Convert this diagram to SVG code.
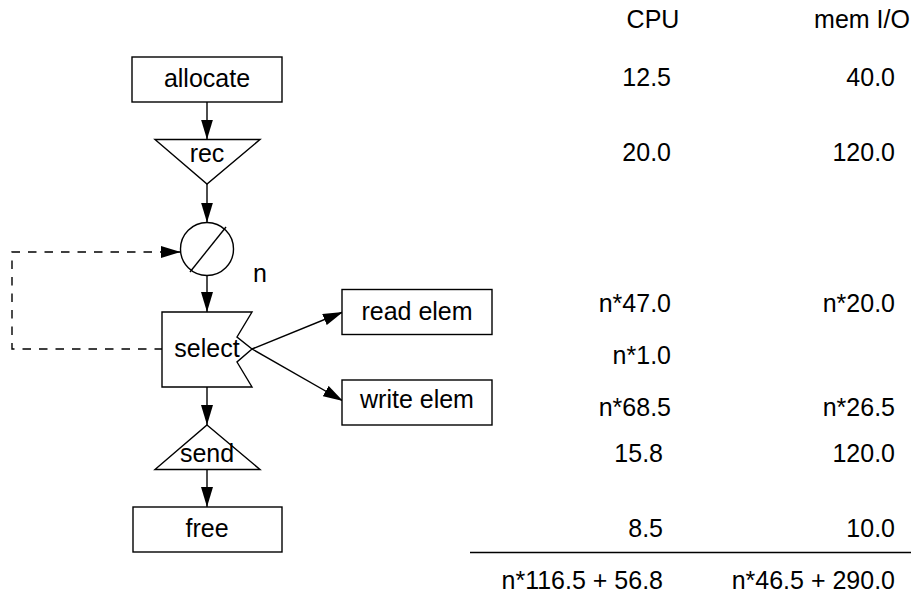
<svg xmlns="http://www.w3.org/2000/svg" width="911" height="594" viewBox="0 0 911 594">
<defs>
<style>
text{font-family:"Liberation Sans",Arial,sans-serif;font-size:25px;fill:#000}
.m{text-anchor:middle}
.e{text-anchor:end}
.s{fill:#fff;stroke:#000;stroke-width:1.4}
.c{fill:none;stroke:#000;stroke-width:1.4}
.d{fill:none;stroke:#000;stroke-width:1.4;stroke-dasharray:8.5 8}
</style>
<marker id="ah" viewBox="0 0 20 12" refX="20" refY="6" markerWidth="20" markerHeight="12" markerUnits="userSpaceOnUse" orient="auto">
<path d="M0,0 L20,6 L0,12 z" fill="#000"/>
</marker>
</defs>
<rect width="911" height="594" fill="#fff"/>
<g id="connectors">
<path class="c" d="M207,102 L207,139.5" marker-end="url(#ah)"/>
<path class="c" d="M207,184 L207,222.5" marker-end="url(#ah)"/>
<path class="c" d="M207,275.5 L207,312" marker-end="url(#ah)"/>
<path class="c" d="M207,387 L207,425" marker-end="url(#ah)"/>
<path class="c" d="M207,470 L207,507" marker-end="url(#ah)"/>
<path class="c" d="M252,349 L343,312" marker-end="url(#ah)"/>
<path class="c" d="M252,349 L343,401" marker-end="url(#ah)"/>
<path class="d" d="M163,349 L12,349 L12,252 L180.7,252" marker-end="url(#ah)"/>
</g>
<g id="allocate">
<rect class="s" x="132" y="57" width="150" height="45"/>
<text class="m" x="207" y="87">allocate</text>
</g>
<g id="rec">
<path class="s" d="M155,139.5 L260,139.5 L207,184 z"/>
<text class="m" x="207" y="162">rec</text>
</g>
<g id="loop">
<circle class="s" cx="207" cy="249" r="26.5"/>
<path class="c" d="M190,272 L226,227"/>
<text class="m" x="260" y="282">n</text>
</g>
<g id="select">
<path class="s" d="M162,312 L252,312 L237,337 L252,349 L237,362 L252,387 L162,387 z"/>
<text class="m" x="207" y="357">select</text>
</g>
<g id="read-elem">
<rect class="s" x="342" y="289.5" width="150" height="45"/>
<text class="m" x="417" y="320">read elem</text>
</g>
<g id="write-elem">
<rect class="s" x="342" y="380" width="150" height="45"/>
<text class="m" x="417" y="408">write elem</text>
</g>
<g id="send">
<path class="s" d="M207,425 L260,469.5 L155,469.5 z"/>
<text class="m" x="207" y="462">send</text>
</g>
<g id="free">
<rect class="s" x="133" y="507" width="149" height="45"/>
<text class="m" x="207" y="537">free</text>
</g>
<g id="table">
<text class="m" x="653" y="28">CPU</text>
<text class="m" x="862" y="28">mem I/O</text>
<text class="e" x="671" y="86">12.5</text>
<text class="e" x="895" y="86">40.0</text>
<text class="e" x="671" y="161">20.0</text>
<text class="e" x="895" y="161">120.0</text>
<text class="e" x="671" y="312">n*47.0</text>
<text class="e" x="895" y="312">n*20.0</text>
<text class="e" x="671" y="364">n*1.0</text>
<text class="e" x="671" y="416">n*68.5</text>
<text class="e" x="895" y="416">n*26.5</text>
<text class="e" x="663" y="462">15.8</text>
<text class="e" x="895" y="462">120.0</text>
<text class="e" x="663" y="537">8.5</text>
<text class="e" x="895" y="537">10.0</text>
<path class="c" d="M470,552.5 L911,552.5"/>
<text class="e" x="663" y="589">n*116.5 + 56.8</text>
<text class="e" x="895" y="589">n*46.5 + 290.0</text>
</g>
</svg>
